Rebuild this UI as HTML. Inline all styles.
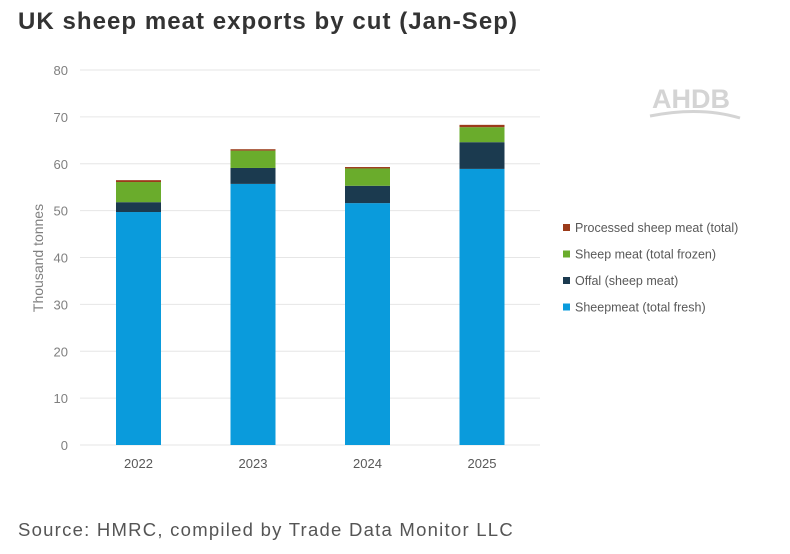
<!DOCTYPE html>
<html><head><meta charset="utf-8"><style>
body{margin:0;background:#fff;width:790px;height:554px;overflow:hidden;font-family:"Liberation Sans",sans-serif}
</style></head><body>
<div style="position:absolute;left:18px;top:8px;font-size:24px;letter-spacing:1.05px;font-weight:bold;color:#333">UK sheep meat exports by cut (Jan-Sep)</div>
<div style="position:absolute;left:18px;top:519px;font-size:18.5px;letter-spacing:1.25px;color:#555">Source: HMRC, compiled by Trade Data Monitor LLC</div>
<svg id="c" width="790" height="554" style="position:absolute;left:0;top:0"></svg>
<script>
const categories=["2022","2023","2024","2025"];
const fresh=[49.7,55.7,51.6,58.9];
const offal=[2.1,3.4,3.7,5.7];
const frozen=[4.3,3.7,3.7,3.2];
const processed=[0.4,0.3,0.3,0.5];
const yTicks=[0,10,20,30,40,50,60,70,80];
const seriesNames=["Sheepmeat (total fresh)","Offal (sheep meat)","Sheep meat (total frozen)","Processed sheep meat (total)"];
const colors=["#0a9bdc","#1b3a4f","#6aac2c","#9b3b1a"];
const NS="http://www.w3.org/2000/svg",svg=document.getElementById('c');
const y=v=>445-v*375/80, x=i=>116+i*114.5, bw=45;
function mk(t,a){const e=document.createElementNS(NS,t);for(const k in a)e.setAttribute(k,a[k]);svg.appendChild(e);return e;}
yTicks.forEach(t=>{
 const l=mk('line',{x1:80,x2:540,y1:y(t),y2:y(t),stroke:'#e6e6e6','stroke-width':1});
 
 
 const tx=mk('text',{x:68,y:y(t)+5,'text-anchor':'end','font-size':13,fill:'#7f7f7f'});tx.textContent=t;
 
 
});
const series=[fresh,offal,frozen,processed];
categories.forEach((c,i)=>{
 let base=0;
 series.forEach((s,k)=>{
  const r=mk('rect',{x:x(i),y:y(base+s[i]),width:bw,height:y(base)-y(base+s[i]),fill:colors[k]});
  
  
  base+=s[i];
 });
 const tx=mk('text',{x:x(i)+bw/2,y:468,'text-anchor':'middle','font-size':13,fill:'#595959'});tx.textContent=c;
 
 
});
const yt=mk('text',{x:0,y:0,'text-anchor':'middle','font-size':14,fill:'#7f7f7f',transform:'translate(43,258) rotate(-90)'});yt.textContent="Thousand tonnes";


[3,2,1,0].forEach((k,j)=>{
 const yy=228+j*26.5;
 const r=mk('rect',{x:563,y:yy-4,width:7,height:7,fill:colors[k]});
 
 
 const t=mk('text',{x:575,y:yy+4,'font-size':12.5,fill:'#595959'});t.textContent=seriesNames[k];
 
 
});
const lg=mk('text',{x:652,y:108,'font-size':27,'font-weight':'bold',fill:'#d4d4d4'});lg.textContent="AHDB";


const sw=mk('path',{d:'M650 116 Q700 106 740 118',stroke:'#d4d4d4','stroke-width':3,fill:'none'});


</script>
</body></html>
